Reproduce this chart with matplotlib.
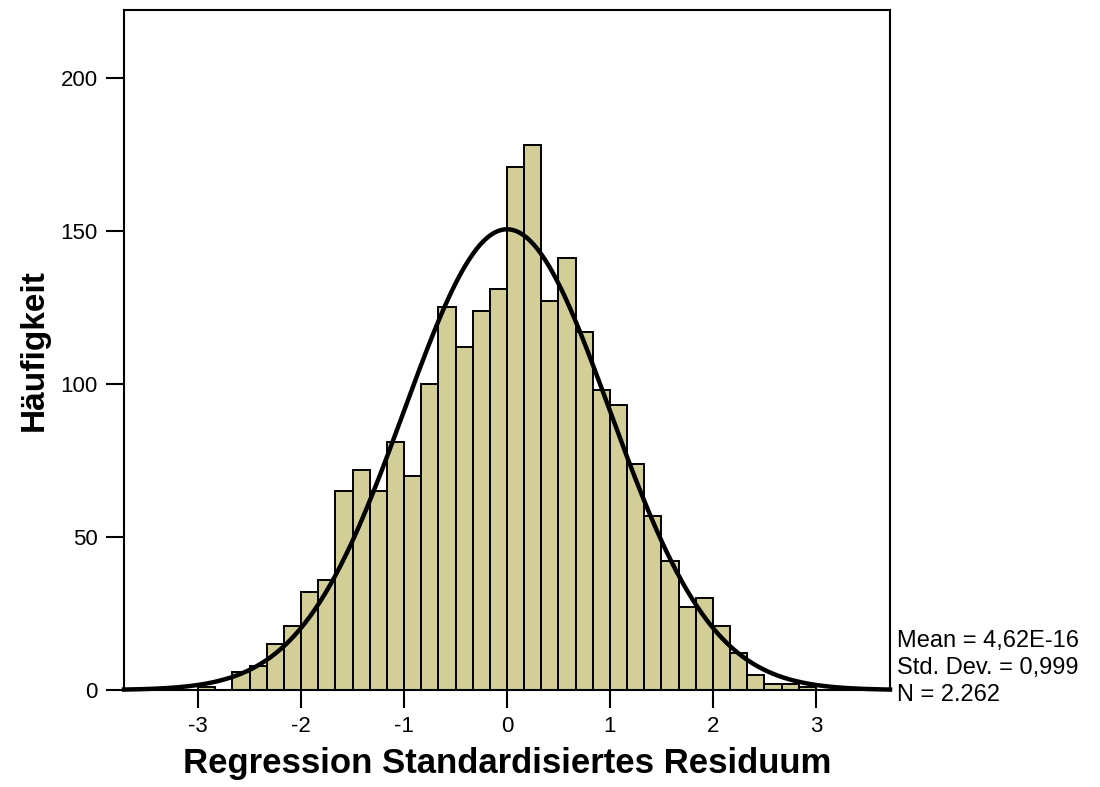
import numpy as np
import matplotlib
matplotlib.use('Agg')
import matplotlib.pyplot as plt

plt.rcParams['font.family'] = ['Liberation Sans', 'DejaVu Sans']
plt.rcParams['axes.unicode_minus'] = False

# histogram data (bin width 1/6, left edges start at -3)
bin_width = 1 / 6
first_edge = -3.0
counts = [1, 0, 6, 8, 15, 21, 32, 36, 65, 72, 65, 81, 70, 100, 125, 112, 124, 131,
          171, 178, 127, 141, 117, 98, 93, 74, 57, 42, 27, 30, 21, 12, 5, 2, 2, 1]

mean = 4.62e-16
std = 0.999
n = 2262

x_ticks = [-3, -2, -1, 0, 1, 2, 3]
y_ticks = [0, 50, 100, 150, 200]

fig = plt.figure(figsize=(11, 7.87), dpi=100)
ax = fig.add_axes([124 / 1100, 1 - 690 / 787, (890 - 124) / 1100, (690 - 10) / 787])

lefts = first_edge + bin_width * np.arange(len(counts))
ax.bar(lefts, counts, width=bin_width, align='edge', color='#d3ce98',
       edgecolor='black', linewidth=1.4, zorder=2)

# normal curve scaled to counts
xs = np.linspace(-3.72, 3.72, 600)
ys = n * bin_width / (std * np.sqrt(2 * np.pi)) * np.exp(-0.5 * ((xs - mean) / std) ** 2)
ax.plot(xs, ys, color='black', linewidth=3.2, zorder=3, clip_on=False)

ax.set_xlim(-3.72, 3.72)
ax.set_ylim(0, 222.2)
ax.set_xticks(x_ticks)
ax.set_yticks(y_ticks)
ax.tick_params(length=13, width=1.5, labelsize=16, pad=6)
for s in ax.spines.values():
    s.set_linewidth(1.5)

ax.set_xlabel('Regression Standardisiertes Residuum', fontsize=25, fontweight='bold', labelpad=7)
ax.set_ylabel('Häufigkeit', fontsize=24, fontweight='bold', labelpad=8)

fig.text(897 / 1100, 1 - 630 / 787, 'Mean = 4,62E-16\nStd. Dev. = 0,999\nN = 2.262',
         fontsize=17, va='top', ha='left', linespacing=1.3)

fig.savefig('out.png', dpi=100)
